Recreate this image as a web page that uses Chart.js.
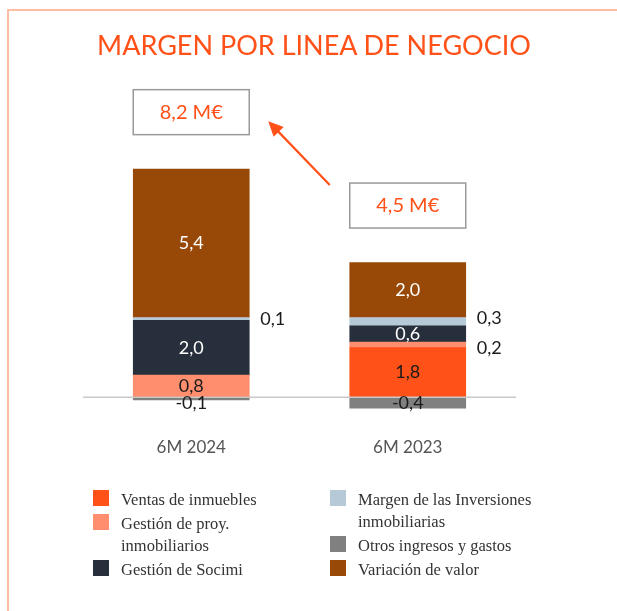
<!DOCTYPE html>
<html>
<head>
<meta charset="utf-8">
<script src="https://cdn.jsdelivr.net/npm/chart.js@4.4.1/dist/chart.umd.min.js"></script>
<style>
  body { margin: 0; background: #fff; }
  #wrap { position: relative; width: 617px; height: 611px; }
  #chart { position: absolute; left: 0; top: 0; display: block; }
  #frame { position: absolute; left: 7px; top: 9px; right: 0; bottom: 0;
           border-top: 2px solid #ffbca4; border-left: 2px solid #ffbca4; }
  #title { position: absolute; left: 14px; width: 600px; top: 28px; text-align: center;
           font-family: Lato, sans-serif; font-size: 27px; line-height: 34px; color: #ff5118; }
  .legend-item { position: absolute; font-family: "Liberation Serif", serif; font-size: 16.5px;
                 line-height: 22px; color: #333; white-space: nowrap; }
  .legend-item .sw { position: absolute; width: 16px; height: 16px; top: 1px; }
</style>
</head>
<body>
<div id="wrap">
  <div id="frame"></div>
  <canvas id="chart" width="617" height="611"></canvas>
  <div id="title">MARGEN POR LINEA DE NEGOCIO</div>
  <div id="legend"></div>
</div>
<script>
// categories and series (millones de euros)
const categories = ['6M 2024', '6M 2023'];
const ventasInmuebles = [0, 1.8];
const gestionProyectos = [0.8, 0.2];
const gestionSocimi = [2.0, 0.6];
const margenInversiones = [0.1, 0.3];
const otrosIngresos = [-0.1, -0.4];
const variacionValor = [5.4, 2.0];

const seriesLabels = [
  ['Ventas de inmuebles'],
  ['Gestión de proy.', 'inmobiliarios'],
  ['Gestión de Socimi'],
  ['Margen de las Inversiones', 'inmobiliarias'],
  ['Otros ingresos y gastos'],
  ['Variación de valor']
];
const seriesColors = ['#ff5118', '#ff8e6e', '#262f3b', '#b6c9d7', '#808080', '#984807'];
const labelColors = ['#1a1a1a', '#1a1a1a', '#ffffff', '#1a1a1a', '#1a1a1a', '#ffffff'];
const seriesData = [ventasInmuebles, gestionProyectos, gestionSocimi, margenInversiones, otrosIngresos, variacionValor];

const orange = '#ff5118';
const fmt = v => v.toFixed(1).replace('.', ',');

// value labels inside / next to each segment, zero line, total boxes and arrow
const valueLabels = {
  id: 'valueLabels',
  afterDatasetsDraw(chart) {
    const ctx = chart.ctx;
    const y = chart.scales.y;
    // zero line
    const y0 = y.getPixelForValue(0);
    ctx.save();
    ctx.strokeStyle = '#c9c9c9';
    ctx.lineWidth = 1.5;
    ctx.beginPath();
    ctx.moveTo(chart.chartArea.left, y0);
    ctx.lineTo(chart.chartArea.right, y0);
    ctx.stroke();

    ctx.font = '18px Lato';
    ctx.textBaseline = 'middle';
    categories.forEach((c, j) => {
      const outside = [];
      chart.data.datasets.forEach((ds, i) => {
        const v = ds.data[j];
        if (!v) return;
        const bar = chart.getDatasetMeta(i).data[j];
        const cy = (bar.y + bar.base) / 2;
        if (v > 0 && v < 0.4) {
          outside.push({ text: fmt(v), x: bar.x + bar.width / 2 + 11, y: cy });
        } else {
          ctx.fillStyle = labelColors[i];
          ctx.textAlign = 'center';
          ctx.fillText(fmt(v), bar.x, v < 0 ? Math.max(cy, y0 + 6) : cy);
        }
      });
      outside.sort((a, b) => a.y - b.y);
      for (let k = 1; k < outside.length; k++) {
        const gap = outside[k].y - outside[k - 1].y;
        if (gap < 30) {
          const d = (30 - gap) / 2;
          outside[k - 1].y -= d;
          outside[k].y += d;
        }
      }
      ctx.fillStyle = '#1a1a1a';
      ctx.textAlign = 'left';
      outside.forEach(o => ctx.fillText(o.text, o.x, o.y));
    });
    ctx.restore();
  },
  afterDraw(chart) {
    const ctx = chart.ctx;
    const y = chart.scales.y;
    const boxes = categories.map((c, j) => {
      const bar = chart.getDatasetMeta(0).data[j];
      const pos = seriesData.reduce((s, d) => s + (d[j] > 0 ? d[j] : 0), 0);
      const total = seriesData.reduce((s, d) => s + d[j], 0);
      const cy = y.getPixelForValue(pos) - 57;
      return { left: bar.x - bar.width / 2, right: bar.x + bar.width / 2, cx: bar.x, cy, top: cy - 22.5, h: 45, total };
    });
    ctx.save();
    boxes.forEach(b => {
      ctx.strokeStyle = '#9a9a9a';
      ctx.lineWidth = 1.5;
      ctx.strokeRect(b.left, b.top, b.right - b.left, b.h);
      ctx.fillStyle = orange;
      ctx.font = '20px Lato';
      ctx.textAlign = 'center';
      ctx.textBaseline = 'middle';
      ctx.fillText(fmt(b.total) + ' M€', b.cx, b.cy);
    });
    // arrow from 2023 box to 2024 box
    const x1 = boxes[1].left - 20, y1 = boxes[1].top + 2;
    const x2 = boxes[0].right + 19, y2 = boxes[0].cy + 9;
    const ang = Math.atan2(y2 - y1, x2 - x1);
    ctx.strokeStyle = orange;
    ctx.fillStyle = orange;
    ctx.lineWidth = 2.2;
    ctx.beginPath();
    ctx.moveTo(x1, y1);
    ctx.lineTo(x2 - 10 * Math.cos(ang), y2 - 10 * Math.sin(ang));
    ctx.stroke();
    ctx.beginPath();
    ctx.moveTo(x2, y2);
    ctx.lineTo(x2 - 15 * Math.cos(ang) + 7 * Math.sin(ang), y2 - 15 * Math.sin(ang) - 7 * Math.cos(ang));
    ctx.lineTo(x2 - 15 * Math.cos(ang) - 7 * Math.sin(ang), y2 - 15 * Math.sin(ang) + 7 * Math.cos(ang));
    ctx.closePath();
    ctx.fill();
    ctx.restore();
  }
};

const ctx = document.getElementById('chart').getContext('2d');
const chart = new Chart(ctx, {
  type: 'bar',
  data: {
    labels: categories,
    datasets: seriesData.map((d, i) => ({
      label: seriesLabels[i].join(' '),
      data: d,
      backgroundColor: seriesColors[i],
      borderWidth: 0,
      barThickness: 116
    }))
  },
  options: {
    responsive: false,
    animation: false,
    layout: { padding: { left: 83, right: 101, top: 95, bottom: 140 } },
    plugins: {
      legend: { display: false },
      tooltip: { enabled: false },
      title: { display: false }
    },
    scales: {
      x: {
        stacked: true,
        grid: { display: false, drawTicks: false },
        border: { display: false },
        ticks: { color: '#555', font: { family: 'Lato', size: 17 }, padding: 13 }
      },
      y: {
        stacked: true,
        display: false,
        min: -1,
        max: 11
      }
    }
  },
  plugins: [valueLabels]
});

// HTML legend in two columns
const legendCols = [[0, 1, 2], [3, 4, 5]];
const colX = [93, 330];
const legendTop = 489;
const legend = document.getElementById('legend');
legendCols.forEach((col, c) => {
  let top = legendTop;
  col.forEach(i => {
    const item = document.createElement('div');
    item.className = 'legend-item';
    item.style.left = colX[c] + 'px';
    item.style.top = top + 'px';
    item.style.paddingLeft = '28px';
    item.innerHTML = '<span class="sw" style="left:0;background:' + seriesColors[i] + '"></span>' +
      seriesLabels[i].join('<br>');
    legend.appendChild(item);
    top += seriesLabels[i].length * 22 + 2;
  });
});
</script>
</body>
</html>
